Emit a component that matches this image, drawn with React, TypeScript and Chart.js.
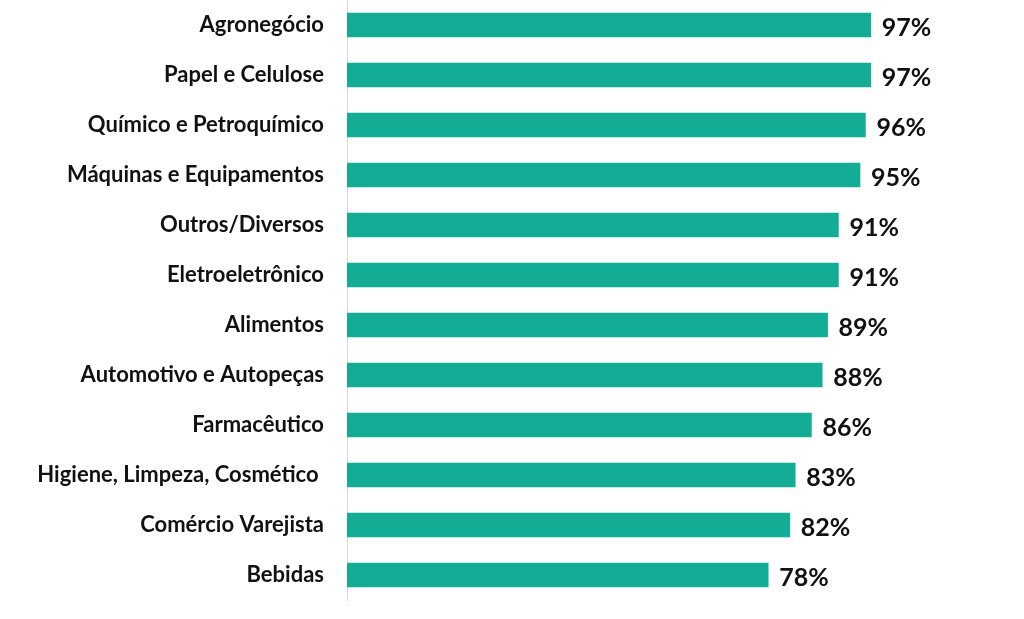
import React, { useEffect, useRef } from "react";
import { Chart, registerables } from "chart.js";

Chart.register(...registerables);

const categories = [
  "Agronegócio",
  "Papel e Celulose",
  "Químico e Petroquímico",
  "Máquinas e Equipamentos",
  "Outros/Diversos",
  "Eletroeletrônico",
  "Alimentos",
  "Automotivo e Autopeças",
  "Farmacêutico",
  "Higiene, Limpeza, Cosmético ",
  "Comércio Varejista",
  "Bebidas",
];
const values = [97, 97, 96, 95, 91, 91, 89, 88, 86, 83, 82, 78];
const valueLabels = values.map((v) => `${v}%`);

const FONT = "Lato, 'Open Sans', sans-serif";

export default function App() {
  const ref = useRef<HTMLCanvasElement | null>(null);
  useEffect(() => {
    if (!ref.current) return;
    const labelPlugin = {
      id: "valueLabels",
      afterDatasetsDraw(chart: any) {
        const ctx = chart.ctx;
        const meta = chart.getDatasetMeta(0);
        ctx.save();
        ctx.font = `bold 25px ${FONT}`;
        ctx.fillStyle = "#111";
        ctx.textAlign = "left";
        ctx.textBaseline = "middle";
        meta.data.forEach((bar: any, i: number) => {
          ctx.fillText(valueLabels[i], bar.x + 11, bar.y + 3);
        });
        ctx.restore();
      },
    };
    const chart = new Chart(ref.current, {
      type: "bar",
      data: {
        labels: categories,
        datasets: [
          {
            data: values,
            backgroundColor: "#13AC95",
            barThickness: 24,
          },
        ],
      },
      options: {
        indexAxis: "y",
        animation: false,
        responsive: false,
        maintainAspectRatio: false,
        layout: { padding: { top: -1, bottom: 19, right: 137, left: 0 } },
        plugins: {
          legend: { display: false },
          tooltip: { enabled: false },
          title: { display: false },
        },
        scales: {
          x: { display: false, min: 0, max: 100 },
          y: {
            grid: { display: false, drawTicks: false },
            border: { display: true, color: "#d9d9d9", width: 1 },
            ticks: {
              color: "#111",
              padding: 23,
              font: { family: FONT, size: 22, weight: "bold" },
            },
            afterFit(scale: any) {
              scale.width = 347;
              scale.paddingTop = 0;
              scale.paddingBottom = 0;
            },
          },
        },
      },
      plugins: [labelPlugin],
    });
    return () => chart.destroy();
  }, []);
  return (
    <div style={{ position: "fixed", left: 0, top: 0, width: 1024, height: 619, background: "#fff" }}>
      <canvas ref={ref} width={1024} height={619} />
    </div>
  );
}
